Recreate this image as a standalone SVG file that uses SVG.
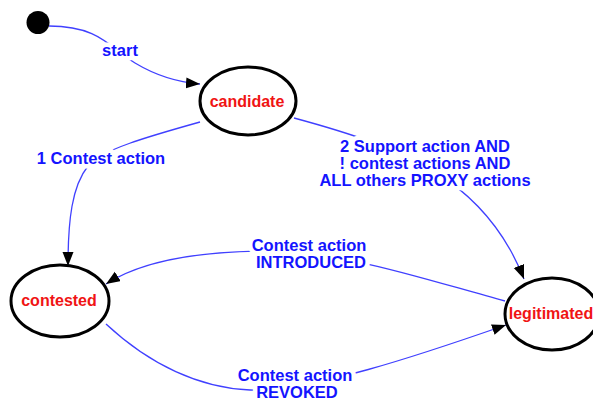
<svg xmlns="http://www.w3.org/2000/svg" width="593" height="401" viewBox="0 0 593 401">
  <style>
    .state ellipse { fill: #ffffff; stroke: #000000; stroke-width: 3; }
    .state text { font-family: "Liberation Sans", Arial, sans-serif; font-weight: bold; font-size: 16px; fill: #f01414; text-anchor: middle; }
    .edge { fill: none; stroke: #4040ff; stroke-width: 1.3; marker-end: url(#arrow); }
    .label { font-family: "Liberation Sans", Arial, sans-serif; font-weight: bold; font-size: 16.5px; fill: #1414ff; text-anchor: middle; stroke: #ffffff; stroke-width: 9; stroke-linejoin: round; paint-order: stroke; }
  </style>
  <defs>
    <marker id="arrow" markerUnits="userSpaceOnUse" markerWidth="15" markerHeight="12" refX="14" refY="5.5" orient="auto">
      <path d="M0,0 L14,5.5 L0,11 z" fill="#000000"/>
    </marker>
  </defs>

  <!-- transitions -->
  <g id="connectors">
    <path class="edge" d="M49,26 C 100,26 110,48 135,63 C 155,75 175,82 200,84"/>
    <path class="edge" d="M200,122 C 150,136 100,150 88,166 C 72,186 68,220 68,266"/>
    <path class="edge" d="M294,118 C 405,148 485,180 524,279"/>
    <path class="edge" d="M505,301 C 420,278 340,250 260,251 C 190,252 140,262 106,284"/>
    <path class="edge" d="M106,324 C 150,365 200,388 250,390 C 310,392 420,355 506,325"/>
    <text class="label" x="120" y="56">start</text>
    <text class="label" x="101" y="164">1 Contest action</text>
    <text class="label" x="425" y="152">2 Support action AND</text>
    <text class="label" x="425" y="169">! contest actions AND</text>
    <text class="label" x="425" y="186">ALL others PROXY actions</text>
    <text class="label" x="309" y="251">Contest action</text>
    <text class="label" x="311" y="268">INTRODUCED</text>
    <text class="label" x="295" y="381">Contest action</text>
    <text class="label" x="297" y="398">REVOKED</text>
  </g>

  <!-- initial pseudo-state -->
  <g id="initial">
    <circle cx="38" cy="22.5" r="11.5" fill="#000000"/>
  </g>

  <g id="candidate" class="state">
    <ellipse cx="248" cy="101" rx="48" ry="34"/>
    <text x="247" y="107">candidate</text>
  </g>

  <g id="contested" class="state">
    <ellipse cx="60" cy="301" rx="49" ry="36"/>
    <text x="59" y="306">contested</text>
  </g>

  <g id="legitimated" class="state">
    <ellipse cx="552" cy="314" rx="47" ry="36"/>
    <text x="551" y="319">legitimated</text>
  </g>
</svg>
